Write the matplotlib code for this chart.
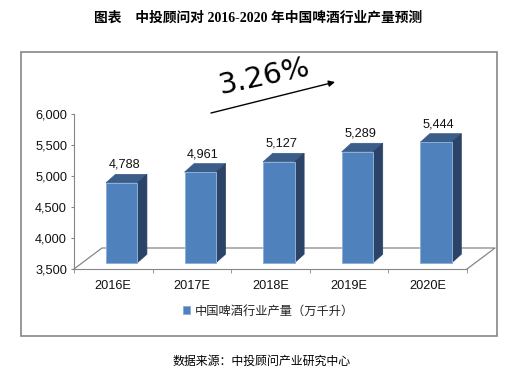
import numpy as np
import matplotlib
matplotlib.use('Agg')
import matplotlib.pyplot as plt
from matplotlib.patches import Polygon, Rectangle
from matplotlib.lines import Line2D
from matplotlib.transforms import IdentityTransform, ScaledTranslation

# data
years = ['2016E', '2017E', '2018E', '2019E', '2020E']
output = [4788, 4961, 5127, 5289, 5444]
series_name = '中国啤酒行业产量（万千升）'
growth_label = '3.26%'
title = '图表　中投顾问对 2016-2020 年中国啤酒行业产量预测'
source = '数据来源：中投顾问产业研究中心'
y_min, y_max, y_step = 3500, 6000, 500

plt.rcParams['font.family'] = ['Liberation Sans', 'Noto Sans CJK SC']

W, H = 528, 375
fig = plt.figure(figsize=(W / 100, H / 100), dpi=100)
fig.patch.set_facecolor('white')


def fx(px):
    return px / W


def fy(py):
    return 1 - py / H


gray = '#868686'
front_col = '#4F81BD'
top_col = '#3B5D8A'
side_col = '#2A4366'

# outer frame
fig.patches.append(Rectangle((fx(21), fy(336)), fx(497) - fx(21), fy(52) - fy(336),
                             transform=fig.transFigure, fill=False,
                             edgecolor=gray, linewidth=1.2))

ax = fig.add_axes([fx(74), fy(269), fx(467) - fx(74), fy(114) - fy(269)])
ax.set_xlim(-0.5, len(years) - 0.5)
ax.set_ylim(y_min, y_max)
ax.patch.set_visible(False)

x = np.arange(len(years))
vals = np.array(output)

# pseudo 3d offsets in pixels
floor_dx, floor_dy = 28, 21
ox, oy = 8.4, 6.3
bx, by = 9.5, 8.5
bw = 0.4


def disp(xv, yv, dx=0, dy=0):
    X, Y = ax.transData.transform((xv, yv))
    return X + dx, Y + dy


# floor
x0, x1 = -0.5, len(years) - 0.5
floor = [disp(x0, y_min), disp(x0, y_min, floor_dx, floor_dy),
         disp(x1, y_min, floor_dx, floor_dy), disp(x1, y_min)]
ax.add_line(Line2D([p[0] for p in floor], [p[1] for p in floor],
                   transform=IdentityTransform(), color=gray, lw=0.9,
                   clip_on=False, zorder=1))

shift = ax.transData + ScaledTranslation(ox / 100, oy / 100, fig.dpi_scale_trans)
bars = ax.bar(x, vals - y_min, bottom=y_min, width=bw, color=front_col,
              edgecolor='#8DB0DA', linewidth=0.7, transform=shift, zorder=3,
              label=series_name, clip_on=False)

for xi, v in zip(x, vals):
    l, r = xi - bw / 2, xi + bw / 2
    top = [disp(l, v, ox, oy), disp(r, v, ox, oy),
           disp(r, v, ox + bx, oy + by), disp(l, v, ox + bx, oy + by)]
    side = [disp(r, y_min, ox, oy), disp(r, y_min, ox + bx, oy + by),
            disp(r, v, ox + bx, oy + by), disp(r, v, ox, oy)]
    ax.add_patch(Polygon(top, closed=True, transform=IdentityTransform(),
                         facecolor=top_col, edgecolor=top_col, lw=0.5,
                         clip_on=False, zorder=2))
    ax.add_patch(Polygon(side, closed=True, transform=IdentityTransform(),
                         facecolor=side_col, edgecolor=side_col, lw=0.5,
                         clip_on=False, zorder=2))
    lx, ly = disp(xi, v, ox + 2.5, oy + 18)
    ax.text(lx, ly, f'{v:,}', transform=IdentityTransform(), ha='center',
            va='center', fontsize=9.2, color='#111111')

# axes styling
for s in ['top', 'right']:
    ax.spines[s].set_visible(False)
ax.spines['left'].set_color(gray)
ax.spines['bottom'].set_color(gray)
ax.set_yticks(np.arange(y_min, y_max + 1, y_step))
ax.set_yticklabels([f'{t:,}' for t in np.arange(y_min, y_max + 1, y_step)])
ax.tick_params(axis='y', length=2.5, color=gray, pad=2.5, labelsize=9.2,
               labelcolor='#111111')
ax.set_xticks(x)
ax.set_xticklabels(years)
ax.set_xticks(np.arange(-0.5, len(years)), minor=True)
ax.tick_params(axis='x', which='major', length=0, pad=8, labelsize=9.2,
               labelcolor='#111111')
ax.tick_params(axis='x', which='minor', length=3, color=gray)

# legend
fig.legend(handles=[bars], labels=[series_name], loc='center left',
           bbox_to_anchor=(fx(183), fy(311)), frameon=False, borderpad=0,
           borderaxespad=0, handlelength=0.55, handleheight=0.55,
           handletextpad=0.45, prop={'family': ['Noto Sans CJK SC'], 'size': 8.8},
           labelcolor='#222222')

# growth annotation
fig.text(fx(264), fy(77), growth_label, rotation=12, ha='center', va='center',
         fontsize=21, family=['DejaVu Sans'], color='black',
         rotation_mode='anchor')
ax.annotate('', xy=(335, H - 82), xytext=(211, H - 113),
            xycoords='figure pixels', textcoords='figure pixels',
            arrowprops=dict(arrowstyle='-|>', color='black', lw=1.0,
                            mutation_scale=9, shrinkA=0, shrinkB=0))

fig.text(fx(258), fy(18), title, ha='center', va='center', fontsize=9.9,
         fontweight='bold', family=['Liberation Serif', 'Noto Sans CJK SC'])
fig.text(fx(262), fy(361), source, ha='center', va='center', fontsize=8.6,
         family=['Noto Sans CJK SC'], color='black')

fig.savefig('out.png', dpi=100, facecolor='white')
